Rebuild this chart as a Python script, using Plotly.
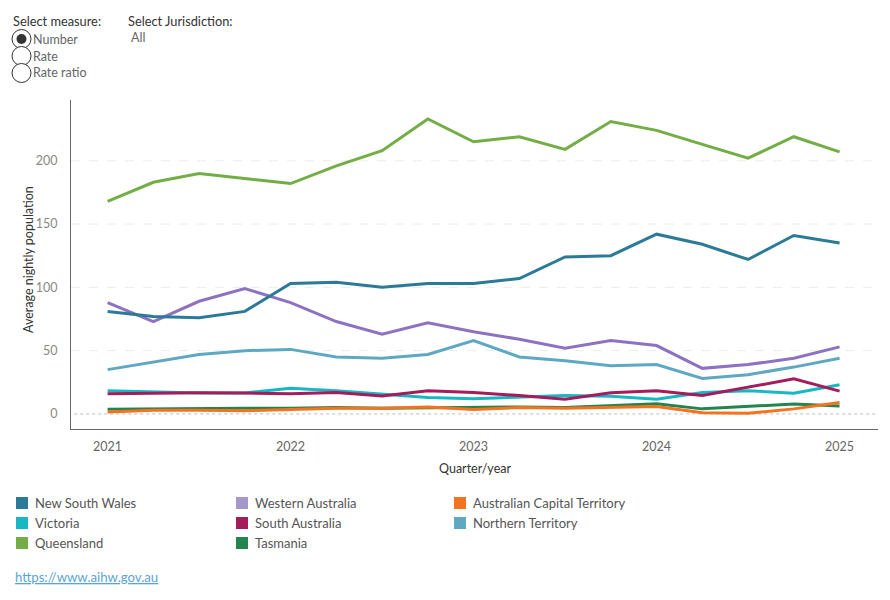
import plotly.graph_objects as go

quarters = [2021.0, 2021.25, 2021.5, 2021.75, 2022.0, 2022.25, 2022.5, 2022.75,
            2023.0, 2023.25, 2023.5, 2023.75, 2024.0, 2024.25, 2024.5, 2024.75, 2025.0]
year_ticks = [2021, 2022, 2023, 2024, 2025]
y_ticks = [0, 50, 100, 150, 200]

nsw = [81, 77, 76, 81, 103, 104, 100, 103, 103, 107, 124, 125, 142, 134, 122, 141, 135]
vic = [18.4, 17.5, 16.5, 16.5, 20.3, 18.4, 15.5, 12.9, 12, 13.5, 14.5, 14, 11.6, 17, 18.4, 16.4, 23]
qld = [168, 183, 190, 186, 182, 196, 208, 233, 215, 219, 209, 231, 224, 213, 202, 219, 207]
wa = [88, 73, 89, 99, 88, 73, 63, 72, 65, 59, 52, 58, 54, 36, 39, 44, 53]
sa = [16, 16.5, 16.8, 16.5, 16, 17, 14.2, 18.4, 17, 14.5, 11.6, 16.8, 18.4, 14.5, 21, 27.7, 18]
tas = [3.7, 4, 4.5, 4.5, 4.5, 5, 4.5, 5, 5.5, 5.5, 5, 6.5, 8, 4, 5.8, 7.9, 6.3]
act = [1.6, 3, 3, 2.5, 3.5, 4.5, 4.5, 5.5, 3.5, 5, 4.5, 5.2, 5.8, 1, 0.5, 4, 9]
nt = [35, 41, 47, 50, 51, 45, 44, 47, 58, 45, 42, 38, 39, 28, 31, 37, 44]

names = ["New South Wales", "Victoria", "Queensland", "Western Australia",
         "South Australia", "Tasmania", "Australian Capital Territory", "Northern Territory"]
series = [nsw, vic, qld, wa, sa, tas, act, nt]
line_colors = ["#2b7a98", "#17b8c4", "#72ae45", "#8e72c2", "#a51c5a", "#24844e", "#f47321", "#5fa8c2"]
legend_colors = ["#2b7a98", "#17b8c4", "#72ae45", "#a597c9", "#a51c5a", "#24844e", "#f47321", "#5fa8c2"]
# draw order (back to front)
draw_order = [7, 3, 2, 0, 1, 4, 5, 6]

W, H = 890, 600
L, R, T, B = 71, 878, 100, 429


def px(x):
    return (x - L) / (R - L)


def py(y):
    return (B - y) / (B - T)


FONT = "Lato"
fig = go.Figure()
for i in draw_order:
    fig.add_trace(go.Scatter(x=quarters, y=series[i], mode="lines", name=names[i],
                             line=dict(color=line_colors[i], width=3), showlegend=False,
                             hovertemplate="%{y}<extra>" + names[i] + "</extra>"))

shapes = []
annotations = []
# gridlines
for v in y_ticks:
    if v == 0:
        shapes.append(dict(type="line", xref="paper", yref="y", x0=0.004, x1=1, y0=0, y1=0,
                           line=dict(color="#bdbdbd", width=1, dash="dot"), layer="below"))
    else:
        shapes.append(dict(type="line", xref="paper", yref="y", x0=0, x1=1, y0=v, y1=v,
                           line=dict(color="#ececec", width=1, dash="dash"), layer="below"))

# legend (manual, 3 columns)
leg_cols = [16, 236, 454]
leg_rows = [503, 523, 543]
leg_order = [0, 3, 6, 1, 4, 7, 2, 5]
for k, idx in enumerate(leg_order):
    c = leg_cols[k % 3]
    r = leg_rows[k // 3]
    shapes.append(dict(type="rect", xref="paper", yref="paper", x0=px(c), x1=px(c + 12),
                       y0=py(r - 6), y1=py(r + 6), fillcolor=legend_colors[idx], line=dict(width=0)))
    annotations.append(dict(text=names[idx], xref="paper", yref="paper", x=px(c + 17), y=py(r),
                            xanchor="left", yanchor="middle", showarrow=False,
                            font=dict(family=FONT, size=13, color="#555555")))

# top controls
annotations.append(dict(text="Select measure:", xref="paper", yref="paper", x=px(11), y=py(21),
                        xanchor="left", yanchor="middle", showarrow=False,
                        font=dict(family=FONT, size=12.8, color="#333333")))
annotations.append(dict(text="Select Jurisdiction:", xref="paper", yref="paper", x=px(126), y=py(21),
                        xanchor="left", yanchor="middle", showarrow=False,
                        font=dict(family=FONT, size=12.8, color="#333333")))
annotations.append(dict(text="All", xref="paper", yref="paper", x=px(129), y=py(38),
                        xanchor="left", yanchor="middle", showarrow=False,
                        font=dict(family=FONT, size=12.5, color="#666666")))
radio_labels = ["Number", "Rate", "Rate ratio"]
radio_y = [39, 56, 73]
for j, (lab, ry) in enumerate(zip(radio_labels, radio_y)):
    shapes.append(dict(type="circle", xref="paper", yref="paper", x0=px(12), x1=px(31),
                       y0=py(ry - 9.5), y1=py(ry + 9.5), line=dict(color="#333333", width=1),
                       fillcolor="white"))
    if j == 0:
        shapes.append(dict(type="circle", xref="paper", yref="paper", x0=px(16.5), x1=px(26.5),
                           y0=py(ry - 5), y1=py(ry + 5), line=dict(width=0), fillcolor="#333333"))
    annotations.append(dict(text=lab, xref="paper", yref="paper", x=px(31), y=py(ry),
                            xanchor="left", yanchor="middle", showarrow=False,
                            font=dict(family=FONT, size=12.5, color="#666666")))

# link
annotations.append(dict(text="<a href='https://www.aihw.gov.au' style='color:#5aa5d6'><u>https://www.aihw.gov.au</u></a>",
                        xref="paper", yref="paper", x=px(13), y=py(577), xanchor="left", yanchor="middle",
                        showarrow=False, font=dict(family=FONT, size=13.2, color="#5aa5d6")))

# axis titles
annotations.append(dict(text="Average nightly population", xref="paper", yref="paper", x=px(28), y=py(260),
                        xanchor="center", yanchor="middle", textangle=-90, showarrow=False,
                        font=dict(family=FONT, size=12.5, color="#333333")))
annotations.append(dict(text="Quarter/year", xref="paper", yref="paper", x=px(475), y=py(468),
                        xanchor="center", yanchor="middle", showarrow=False,
                        font=dict(family=FONT, size=12.5, color="#333333")))

fig.update_layout(
    width=W, height=H,
    margin=dict(l=L, r=W - R, t=T, b=H - B, pad=0),
    paper_bgcolor="white", plot_bgcolor="white",
    showlegend=False,
    shapes=shapes, annotations=annotations,
    font=dict(family=FONT, size=12, color="#666666"),
    xaxis=dict(range=[2020.8, 2025.21], tickvals=year_ticks, ticktext=[str(y) for y in year_ticks],
               showgrid=False, zeroline=False, showline=True, linecolor="#666666", linewidth=1,
               ticks="", tickfont=dict(family=FONT, size=12.5, color="#666666"), ticklabelstandoff=6),
    yaxis=dict(range=[-11.9, 248], tickvals=y_ticks, showgrid=False, zeroline=False,
               showline=True, linecolor="#666666", linewidth=1, ticks="",
               tickfont=dict(family=FONT, size=12.5, color="#888888"), ticklabelstandoff=10),
)

fig.write_html("out.html")
